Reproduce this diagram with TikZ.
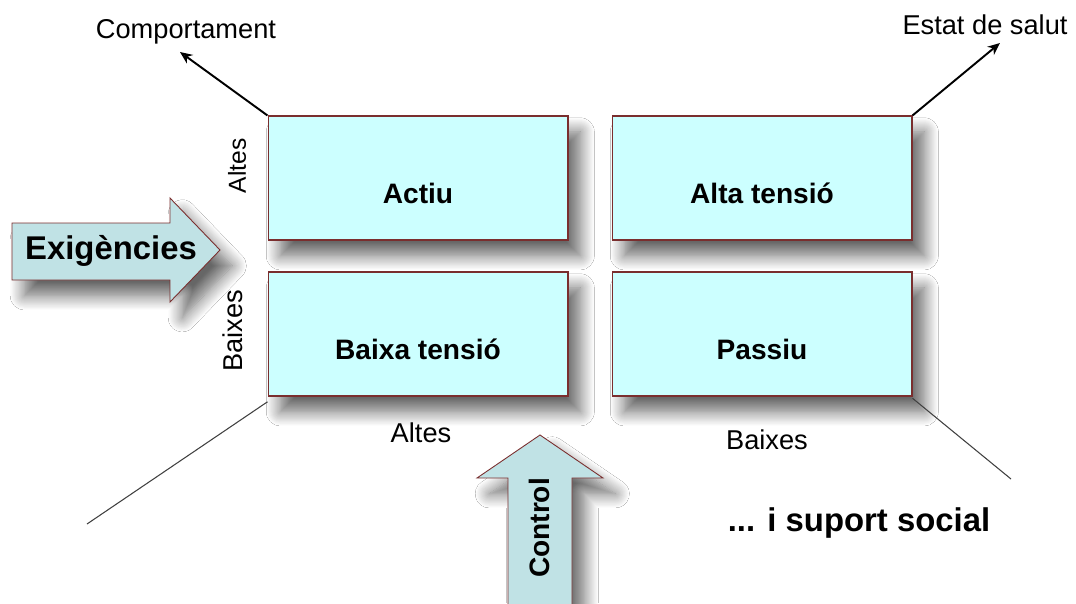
\documentclass[tikz,border=0pt]{standalone}
\usepackage{fontspec}
\setmainfont{Liberation Sans}
\usetikzlibrary{arrows.meta,shadows.blur}

\definecolor{boxfill}{HTML}{CCFFFF}
\definecolor{boxedge}{HTML}{7A2E2E}
\definecolor{arrowfill}{HTML}{C0E2E5}

\begin{document}
\begin{tikzpicture}[x=0.02cm,y=-0.02cm,
  softshadow/.style={blur shadow={shadow xshift=7pt, shadow yshift=-9pt,
      shadow blur radius=8pt, shadow blur steps=14, shadow opacity=60}},
  cell/.style={draw=boxedge, line width=0.6pt, fill=boxfill,
      minimum width=6cm, minimum height=2.48cm, inner sep=0pt, softshadow},
  celltext/.style={font=\bfseries\fontsize{16}{19}\selectfont},
  bigarrow/.style={draw=boxedge, line width=0.5pt, fill=arrowfill, softshadow},
  bigtext/.style={font=\bfseries\fontsize{18.7}{22}\selectfont},
  axistext/.style={font=\fontsize{15.5}{18}\selectfont},
  outarrow/.style={line width=1.1pt, -{Stealth[length=7pt,width=6pt]}},
  thinline/.style={line width=0.6pt, draw=black!75}]

  % canvas
  \fill[white] (0,0) rectangle (1076,603);
  \useasboundingbox (0,0) rectangle (1076,603);

  % demands arrow (left)
  \draw[bigarrow] (12,223) -- (170,223) -- (170,198) -- (220,250)
      -- (170,302) -- (170,280) -- (12,280) -- cycle;
  \node[bigtext] (exig) at (111,251) {Exigències};

  % control arrow (bottom)
  \draw[bigarrow] (508,620) -- (508,478) -- (477,478) -- (540,435)
      -- (603,478) -- (572,478) -- (572,620) -- cycle;
  \node[bigtext, font=\bfseries\fontsize{16}{19}\selectfont, rotate=90] (ctrl) at (539,528) {Control};

  % quadrants
  \node[cell, label={[celltext, yshift=-0.3cm]center:Actiu}] (actiu) at (418,178) {};
  \node[cell, label={[celltext, yshift=-0.3cm]center:Alta tensió}] (alta) at (762,178) {};
  \node[cell, label={[celltext, yshift=-0.3cm]center:Baixa tensió}] (baixa) at (418,334) {};
  \node[cell, label={[celltext, yshift=-0.3cm]center:Passiu}] (passiu) at (762,334) {};

  % axis labels
  \node[axistext, font=\fontsize{14}{16}\selectfont, rotate=90] (altesV) at (237,166) {Altes};
  \node[axistext, rotate=90] (baixesV) at (233,331) {Baixes};
  \node[axistext] (altesH) at (421,433) {Altes};
  \node[axistext] (baixesH) at (767,440) {Baixes};

  % outcomes
  \node[axistext] (comp) at (186,32) {Comportament};
  \node[axistext] (salut) at (985,25) {Estat de salut};
  \coordinate (compTip) at (180,52);
  \coordinate (salutTip) at (1000,43);
  \draw[outarrow] (actiu.north west) -- (compTip);
  \draw[outarrow] (alta.north east) -- (salutTip);

  % diagonal guides
  \coordinate (leftEnd) at (87,524);
  \coordinate (rightEnd) at (1011,479);
  \draw[thinline] ([yshift=-3pt]baixa.south west) -- (leftEnd);
  \draw[thinline] ([yshift=-1pt]passiu.south east) -- (rightEnd);

  \node[bigtext] (suport) at (859,523) {... i suport social};
\end{tikzpicture}
\end{document}
